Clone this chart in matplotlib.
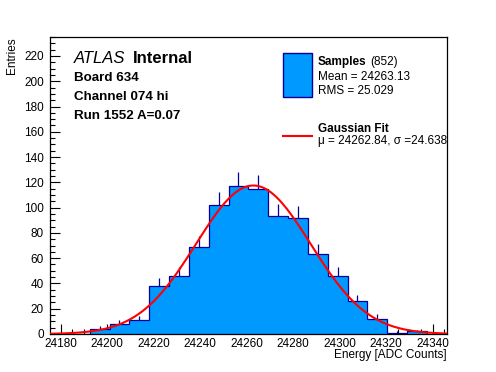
# Energy histogram with gaussian fit, ATLAS style

import matplotlib
matplotlib.use('Agg')
import matplotlib.pyplot as plt
import numpy as np
from matplotlib.patches import Rectangle
from matplotlib.ticker import MultipleLocator

# histogram: 20 bins between bin_lo and bin_hi
bin_lo = 24175.4
bin_hi = 24346.0
counts = [0, 0, 4, 8, 11, 38, 46, 69, 102, 117,
          115, 93, 92, 63, 46, 26, 12, 1, 2, 0]

# fit parameters
fit_mu = 24262.84
fit_sigma = 24.638
fit_amp = 117.5

x_ticks = [24180, 24200, 24220, 24240, 24260, 24280, 24300, 24320, 24340]
y_max = 235

W, H = 496, 372
plt.rcParams['font.family'] = ['Liberation Sans', 'DejaVu Sans']


def fx(x):
    return x / W


def fy(y):
    return 1 - y / H


fig = plt.figure(figsize=(W / 100, H / 100), dpi=100)
ax = fig.add_axes([fx(50), fy(334), (446.7 - 50) / W, (334 - 37) / H])

counts = np.array(counts, dtype=float)
edges = np.linspace(bin_lo, bin_hi, len(counts) + 1)
centers = 0.5 * (edges[:-1] + edges[1:])

# error bars (only the part above the bar shows, fill covers the rest)
err = np.sqrt(counts)
m = counts > 0
ax.vlines(centers[m], counts[m] - err[m], counts[m] + err[m], color='#000099', lw=0.9, zorder=1)
ax.stairs(counts, edges, fill=True, color='#0099ff', zorder=2)
ax.stairs(counts, edges, baseline=0, color='#000099', lw=0.9, zorder=3)

xs = np.linspace(bin_lo, bin_hi, 400)
ax.plot(xs, fit_amp * np.exp(-0.5 * ((xs - fit_mu) / fit_sigma) ** 2), color='red', lw=1.5, zorder=4)

ax.set_xlim(bin_lo, bin_hi)
ax.set_ylim(0, y_max)
ax.set_xticks(x_ticks)
ax.xaxis.set_minor_locator(MultipleLocator(5))
ax.yaxis.set_major_locator(MultipleLocator(20))
ax.yaxis.set_minor_locator(MultipleLocator(5))
ax.tick_params(which='both', direction='in', top=False, right=False, labelsize=8.5, color='black')
ax.tick_params(which='major', length=7.5, width=0.8)
ax.tick_params(which='minor', length=3.8, width=0.8)
ax.tick_params(axis='x', pad=3)
ax.tick_params(axis='y', pad=4.5)
for s in ax.spines.values():
    s.set_linewidth(0.9)

# axis titles, ROOT style
fig.text(fx(446.7), fy(358), 'Energy [ADC Counts]', ha='right', va='baseline', fontsize=8.5)
fig.text(fx(12), fy(37), 'Entries', rotation=90, ha='center', va='top', fontsize=8.5)

# ATLAS label block
fig.text(fx(74), fy(62.7), 'ATLAS', style='italic', fontsize=12, va='baseline')
fig.text(fx(133.3), fy(62.7), 'Internal', weight='bold', fontsize=12, va='baseline')
fig.text(fx(74), fy(80.7), 'Board 634', weight='bold', fontsize=9.6, va='baseline')
fig.text(fx(74), fy(100), 'Channel 074 hi', weight='bold', fontsize=9.6, va='baseline')
fig.text(fx(74), fy(119), 'Run 1552 A=0.07', weight='bold', fontsize=9.6, va='baseline')

# legend
fig.patches.append(Rectangle((fx(283.3), fy(96.7)), (311.7 - 283.3) / W, (96.7 - 53.3) / H,
                             transform=fig.transFigure, facecolor='#0099ff', edgecolor='#000099', lw=1))
fig.text(fx(317.7), fy(65), 'Samples', weight='bold', fontsize=8.5, va='baseline')
fig.text(fx(370), fy(65), '(852)', fontsize=8.5, va='baseline')
fig.text(fx(317.7), fy(80), 'Mean = 24263.13', fontsize=8.5, va='baseline')
fig.text(fx(317.7), fy(93.5), 'RMS = 25.029', fontsize=8.5, va='baseline')
fig.lines.append(plt.Line2D([fx(283.3), fx(311.7)], [fy(136), fy(136)], transform=fig.transFigure,
                            color='red', lw=1.5))
fig.text(fx(317.7), fy(132.3), 'Gaussian Fit', weight='bold', fontsize=8.5, va='baseline')
fig.text(fx(317.7), fy(144), 'μ = 24262.84, σ =24.638', fontsize=8.5, va='baseline')

fig.savefig('out.png', dpi=100)
